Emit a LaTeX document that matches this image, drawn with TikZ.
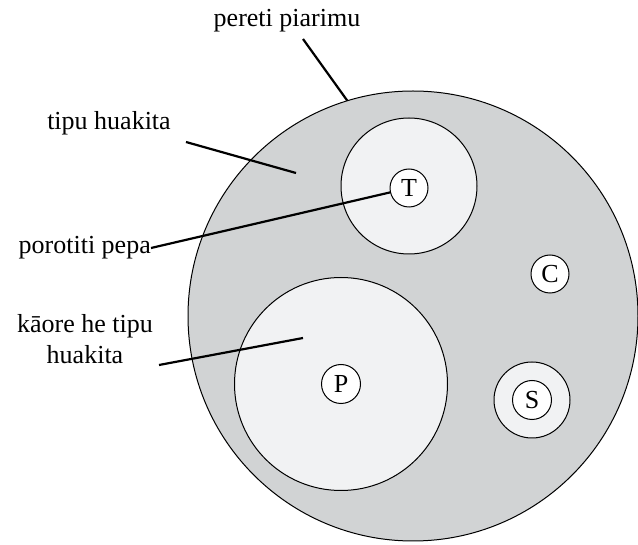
\documentclass[tikz,border=0pt]{standalone}
\usepackage{fontspec}
\setmainfont{Liberation Serif}
\definecolor{plategray}{RGB}{209,211,212}
\definecolor{zonegray}{RGB}{241,242,243}
\tikzset{
  cell/.style={circle,draw,line width=1pt,inner sep=0pt,font=\fontsize{26}{30}\selectfont},
  tag/.style={inner sep=0pt,align=center,font=\fontsize{26}{31.5}\selectfont},
  lead/.style={line width=2.2pt}
}
\begin{document}
\begin{tikzpicture}[x=1pt,y=-1pt]
  \useasboundingbox (0,0) rectangle (638,545);
  \node[cell,fill=plategray,minimum size=450pt] (plate) at (413,316) {};
  \node[cell,fill=zonegray,minimum size=136pt] (tzone) at (409,186) {};
  \node[cell,fill=white,minimum size=38pt] (tcell) at (409,188) {T};
  \node[cell,fill=zonegray,minimum size=213pt] (pzone) at (341,384) {};
  \node[cell,fill=white,minimum size=39pt] (pcell) at (341,384) {P};
  \node[cell,fill=white,minimum size=38pt] (ccell) at (550,274) {C};
  \node[cell,fill=zonegray,minimum size=76pt] (szone) at (532,400) {};
  \node[cell,fill=white,minimum size=39pt] (scell) at (532,400) {S};

  \node[tag] (pereti) at (287,21) {pereti piarimu};
  \node[tag] (tipu) at (109,123) {tipu huakita};
  \node[tag,anchor=east] (porotiti) at (151,248) {porotiti pepa};
  \node[tag] (kaore) at (85,339) {kāore he tipu\\huakita};

  \coordinate (peretifoot) at (303,39);
  \coordinate (tipufoot) at (186,142);
  \coordinate (tiputip) at (296,173);
  \coordinate (kaorefoot) at (159,365);
  \coordinate (kaoretip) at (303,338);
  \draw[lead] (peretifoot) -- (plate.107);
  \draw[lead] (tipufoot) -- (tiputip);
  \draw[lead] (porotiti.east) -- (tcell);
  \draw[lead] (kaorefoot) -- (kaoretip);
\end{tikzpicture}
\end{document}
